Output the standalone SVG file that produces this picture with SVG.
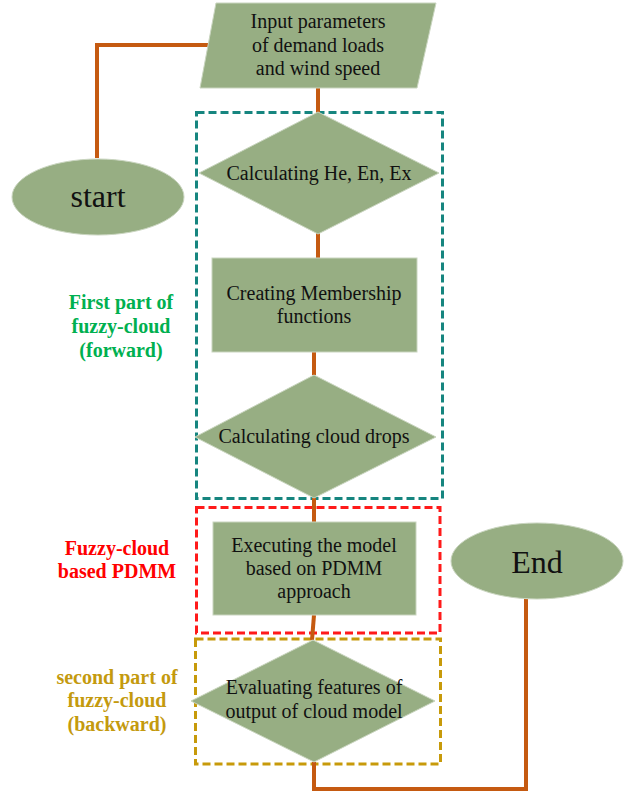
<svg xmlns="http://www.w3.org/2000/svg" width="633" height="792" viewBox="0 0 633 792">
<style>
.node{fill:#97ae83;stroke:#c9d5bf;stroke-width:1}
.t{font-family:"Liberation Serif","Times New Roman",serif;font-size:20px;fill:#111;text-anchor:middle}
.big{font-size:32px}
.lbl{font-family:"Liberation Serif","Times New Roman",serif;font-size:20px;font-weight:bold;text-anchor:middle}
.conn{fill:none;stroke:#c55a11;stroke-width:4}
.box{fill:none;stroke-width:3;stroke-dasharray:8 4}
</style>
<rect width="633" height="792" fill="#fff"/>
<g id="groups">
<rect class="box" x="196.5" y="112.5" width="246" height="386" stroke="#16857f"/>
<rect class="box" x="196.5" y="507.5" width="243.5" height="125.5" stroke="#ff1a1a"/>
<rect class="box" x="195.5" y="639" width="245" height="125" stroke="#c79a0a"/>
</g>
<g id="connectors">
<polyline class="conn" points="215,45 97,45 97,158"/>
<line class="conn" x1="318" y1="88" x2="318" y2="113"/>
<line class="conn" x1="318" y1="233" x2="318" y2="258"/>
<line class="conn" x1="314" y1="352" x2="314" y2="375"/>
<line class="conn" x1="314" y1="498" x2="314" y2="522"/>
<line class="conn" x1="314" y1="615" x2="312" y2="640"/>
<polyline class="conn" points="314,762 314,789 526,789 526,599"/>
</g>
<g id="start">
<ellipse class="node" cx="98" cy="197" rx="86" ry="38"/>
<text class="t big" x="98" y="207">start</text>
</g>
<g id="input">
<polygon class="node" points="216,3 436,3 417,88 200,88"/>
<text class="t" x="318" y="28">Input parameters</text>
<text class="t" x="318" y="52">of demand loads</text>
<text class="t" x="318" y="75">and wind speed</text>
</g>
<g id="calc-he">
<polygon class="node" points="318,112 439,173 318,234 199,173"/>
<text class="t" x="319" y="180">Calculating He, En, Ex</text>
</g>
<g id="membership">
<rect class="node" x="212" y="258" width="205" height="94"/>
<text class="t" x="314" y="300">Creating Membership</text>
<text class="t" x="314" y="323">functions</text>
</g>
<g id="cloud-drops">
<polygon class="node" points="314,375 436,437 314,498 195,437"/>
<text class="t" x="314" y="443">Calculating cloud drops</text>
</g>
<g id="executing">
<rect class="node" x="213" y="522" width="203" height="93"/>
<text class="t" x="314" y="552">Executing the model</text>
<text class="t" x="314" y="575">based on PDMM</text>
<text class="t" x="314" y="598">approach</text>
</g>
<g id="evaluating">
<polygon class="node" points="313,640 435,701 314,762 191,701"/>
<text class="t" x="314" y="694">Evaluating features of</text>
<text class="t" x="314" y="718">output of cloud model</text>
</g>
<g id="end">
<ellipse class="node" cx="537" cy="561" rx="86" ry="38"/>
<text class="t big" x="537" y="573">End</text>
</g>
<g id="labels">
<text class="lbl" x="121" y="309" fill="#00b050">First part of</text>
<text class="lbl" x="121" y="333" fill="#00b050">fuzzy-cloud</text>
<text class="lbl" x="121" y="357" fill="#00b050">(forward)</text>
<text class="lbl" x="117" y="555" fill="#ff0000">Fuzzy-cloud</text>
<text class="lbl" x="117" y="578" fill="#ff0000">based PDMM</text>
<text class="lbl" x="117" y="684" fill="#c49a0e">second part of</text>
<text class="lbl" x="117" y="707" fill="#c49a0e">fuzzy-cloud</text>
<text class="lbl" x="117" y="731" fill="#c49a0e">(backward)</text>
</g>
</svg>
